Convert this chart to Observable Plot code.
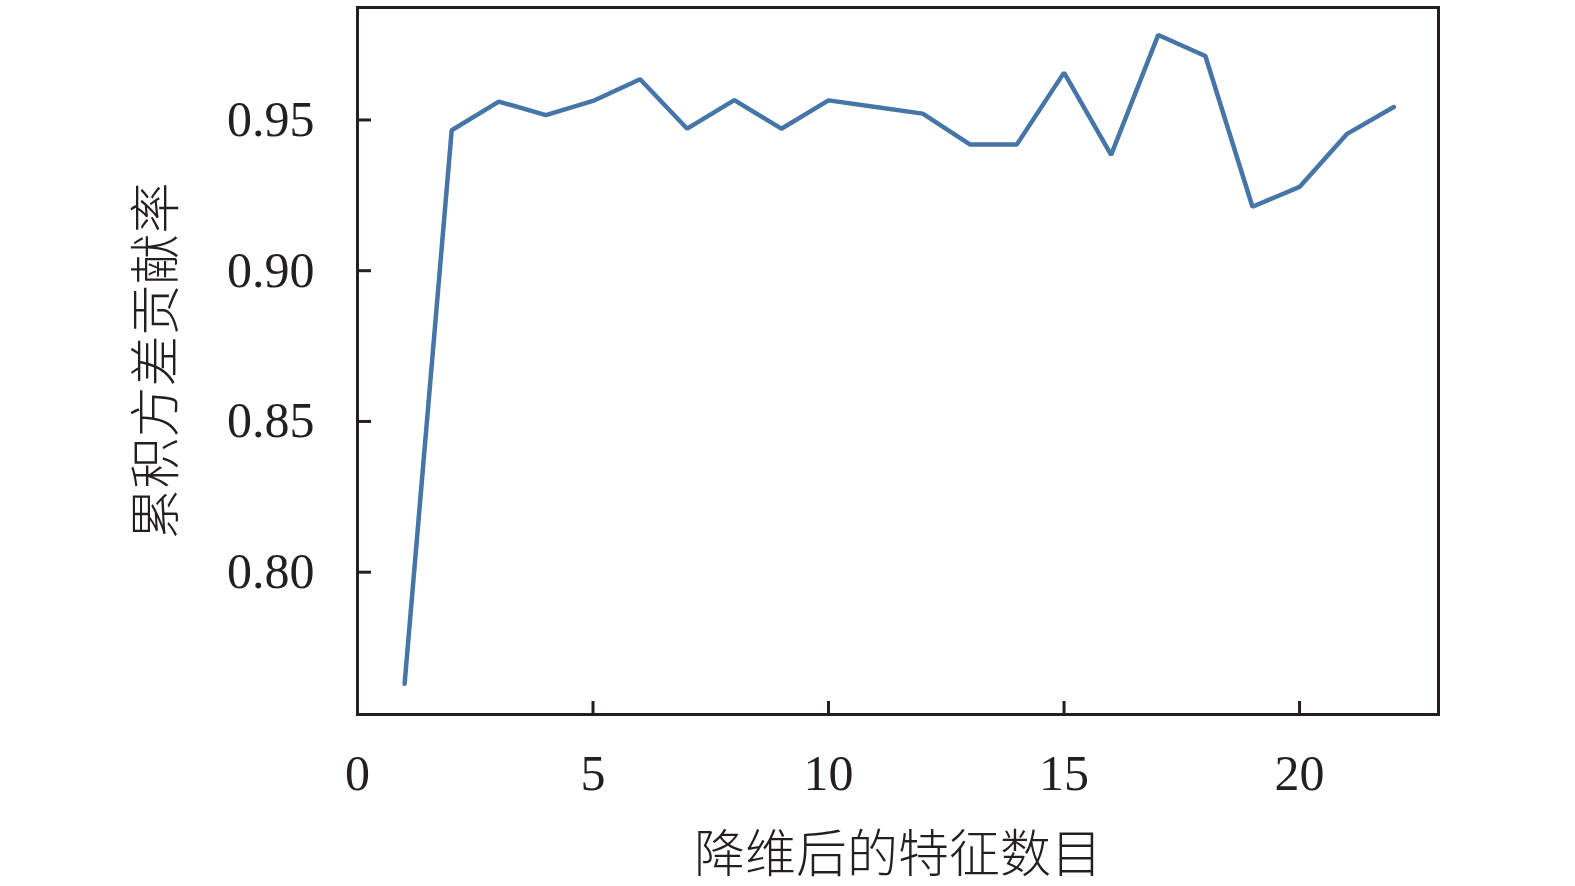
<!DOCTYPE html>
<html>
<head>
<meta charset="utf-8">
<script src="https://cdn.jsdelivr.net/npm/d3@7"></script>
<script src="https://cdn.jsdelivr.net/npm/@observablehq/plot@0.6"></script>
<style>
  html, body { margin: 0; padding: 0; background: #fff; }
  #chart svg { display: block; }
</style>
</head>
<body>
<div id="chart"></div>
<script>
const features = [1,2,3,4,5,6,7,8,9,10,11,12,13,14,15,16,17,18,19,20,21,22];
const ratio = [0.763, 0.9466, 0.9561, 0.9516, 0.9563, 0.9635, 0.9471, 0.9566, 0.9471, 0.9565, 0.9543,
               0.9521, 0.9419, 0.9419, 0.9657, 0.9384, 0.9782, 0.9712, 0.9212, 0.9278, 0.9453, 0.9543];
const xTicks = [0, 5, 10, 15, 20];
const yTicks = [0.80, 0.85, 0.90, 0.95];
const xLabel = "降维后的特征数目";
const yLabel = "累积方差贡献率";

const data = features.map((f, i) => ({x: f, y: ratio[i]}));

const numFont = "'Liberation Serif', 'Times New Roman', serif";
const cjkFont = "'Liberation Serif', 'Noto Sans CJK SC', serif";
const ink = "#231f20";

const chart = Plot.plot({
  width: 1575,
  height: 886,
  marginLeft: 357,
  marginRight: 137,
  marginTop: 7,
  marginBottom: 172,
  style: {fontFamily: numFont, color: ink, background: "#fff"},
  x: {domain: [0, 22.95]},
  y: {domain: [0.7528, 0.9873]},
  marks: [
    Plot.line(data, {x: "x", y: "y", stroke: "#4676a7", strokeWidth: 4.5, strokeLinejoin: "miter"}),
    // inward ticks
    Plot.axisX(xTicks, {anchor: "bottom", tickSize: -13, strokeWidth: 3, stroke: ink, label: null, tickFormat: () => ""}),
    Plot.axisY(yTicks, {anchor: "left", tickSize: -14, strokeWidth: 3, stroke: ink, label: null, tickFormat: () => ""}),
    // tick labels
    Plot.axisX(xTicks, {anchor: "bottom", tickSize: 0, tickPadding: 40, fontSize: 50, fill: ink, label: null, tickFormat: d => String(d)}),
    Plot.axisY(yTicks, {anchor: "left", tickSize: 0, tickPadding: 43, fontSize: 50, fill: ink, label: null, tickFormat: d => d.toFixed(2)}),
    Plot.frame({stroke: ink, strokeWidth: 3}),
    Plot.text([xLabel], {frameAnchor: "bottom", dy: 141, text: d => d, fontSize: 51, fontFamily: cjkFont, fontWeight: 300, fill: ink, lineAnchor: "middle", textAnchor: "middle"}),
    Plot.text([yLabel], {frameAnchor: "left", dx: -200, rotate: -90, text: d => d, fontSize: 51, fontFamily: cjkFont, fontWeight: 300, fill: ink, lineAnchor: "middle", textAnchor: "middle"})
  ]
});
document.getElementById("chart").appendChild(chart);
</script>
</body>
</html>
